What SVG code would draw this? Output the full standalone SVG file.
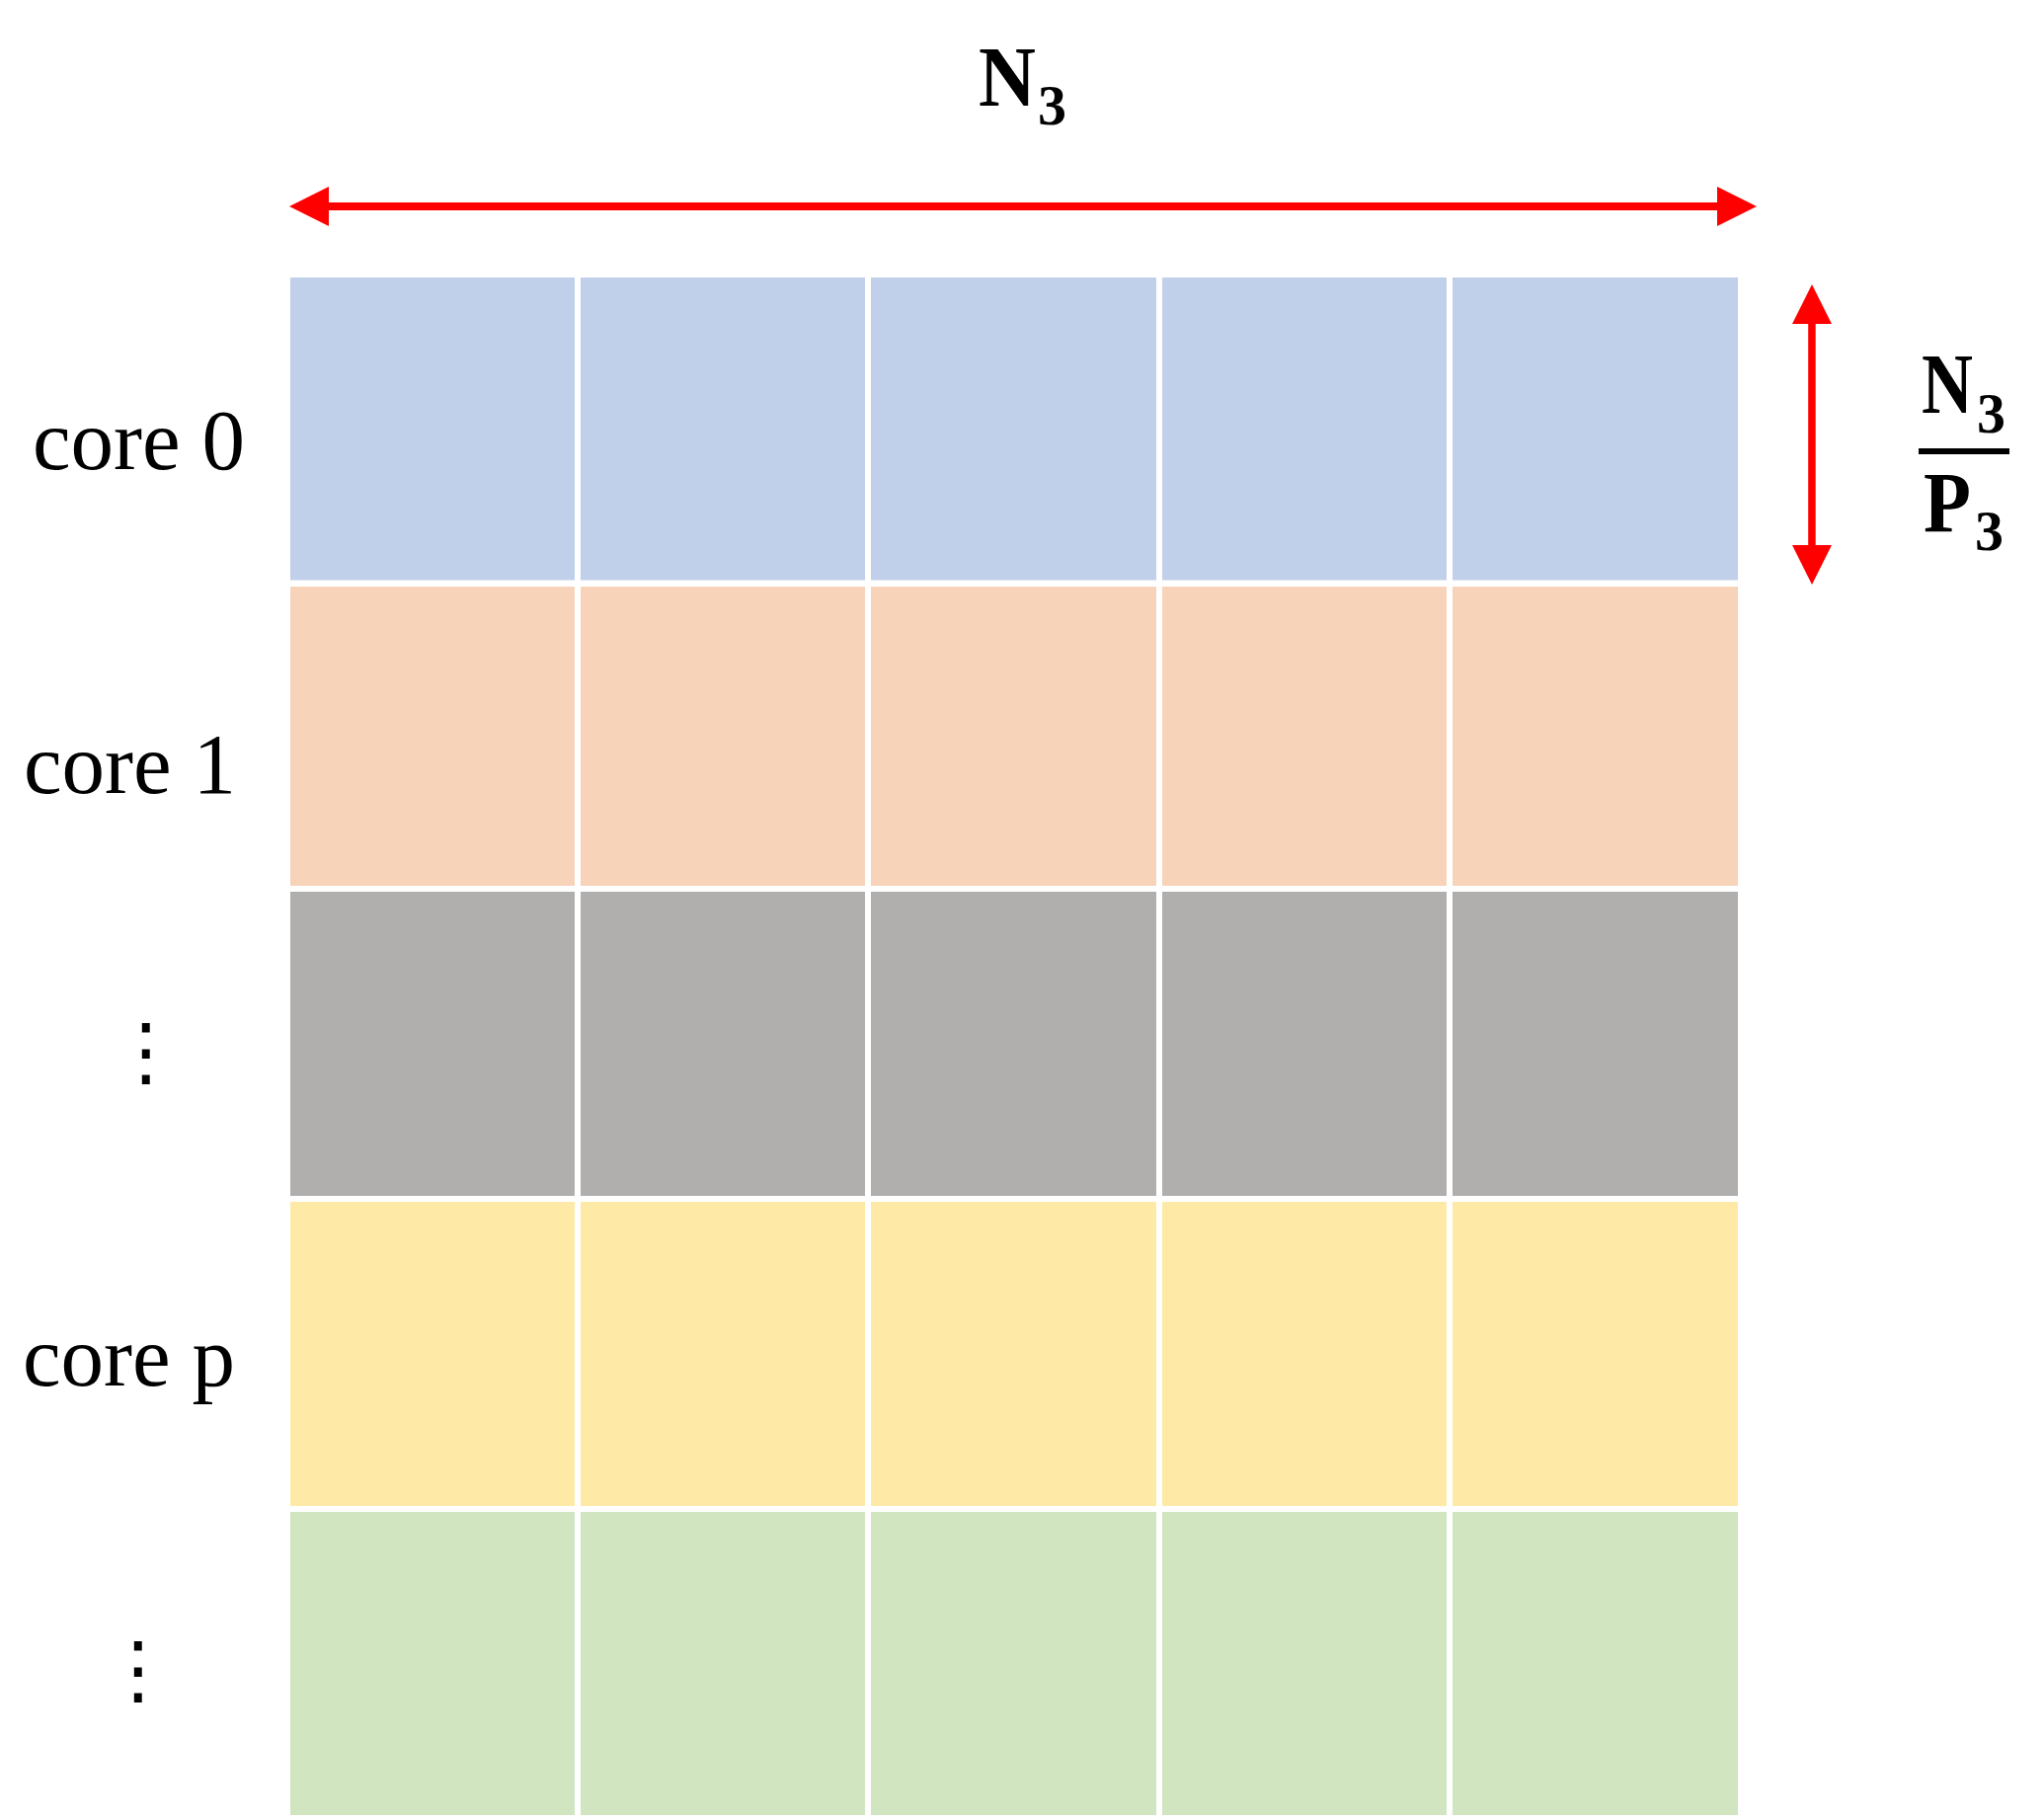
<svg xmlns="http://www.w3.org/2000/svg" width="2070" height="1843" viewBox="0 0 2070 1843">
<style>
.lbl{font-family:"Liberation Serif","Times New Roman",serif;font-size:87px;fill:#000}
.math{font-family:"Liberation Serif","Times New Roman",serif;font-weight:bold;fill:#000;font-size:86px}
.sub{font-size:58px}
.dots{font-family:"DejaVu Serif","DejaVu Sans",serif;font-size:77px;fill:#000}
.b{fill:#C0D0EB}.o{fill:#F7D3BA}.g{fill:#B0AFAD}.y{fill:#FEE9A7}.gr{fill:#D0E5C0}
.arr{fill:#FF0000}
</style>
<rect width="2070" height="1843" fill="#fff"/>
<g id="row-core0">
<rect class="b" x="294" y="281" width="288" height="306.5"/>
<rect class="b" x="588" y="281" width="288" height="306.5"/>
<rect class="b" x="882" y="281" width="289" height="306.5"/>
<rect class="b" x="1177" y="281" width="288" height="306.5"/>
<rect class="b" x="1471" y="281" width="289" height="306.5"/>
</g>
<g id="row-core1">
<rect class="o" x="294" y="594" width="288" height="303"/>
<rect class="o" x="588" y="594" width="288" height="303"/>
<rect class="o" x="882" y="594" width="289" height="303"/>
<rect class="o" x="1177" y="594" width="288" height="303"/>
<rect class="o" x="1471" y="594" width="289" height="303"/>
</g>
<g id="row-gray">
<rect class="g" x="294" y="903" width="288" height="308"/>
<rect class="g" x="588" y="903" width="288" height="308"/>
<rect class="g" x="882" y="903" width="289" height="308"/>
<rect class="g" x="1177" y="903" width="288" height="308"/>
<rect class="g" x="1471" y="903" width="289" height="308"/>
</g>
<g id="row-corep">
<rect class="y" x="294" y="1217" width="288" height="308"/>
<rect class="y" x="588" y="1217" width="288" height="308"/>
<rect class="y" x="882" y="1217" width="289" height="308"/>
<rect class="y" x="1177" y="1217" width="288" height="308"/>
<rect class="y" x="1471" y="1217" width="289" height="308"/>
</g>
<g id="row-green">
<rect class="gr" x="294" y="1531" width="288" height="307"/>
<rect class="gr" x="588" y="1531" width="288" height="307"/>
<rect class="gr" x="882" y="1531" width="289" height="307"/>
<rect class="gr" x="1177" y="1531" width="288" height="307"/>
<rect class="gr" x="1471" y="1531" width="289" height="307"/>
</g>
<g id="labels">
<text class="lbl" x="33" y="475">core 0</text>
<text class="lbl" x="24" y="802.7">core 1</text>
<text class="dots" x="148" y="1090.5" text-anchor="middle">⋮</text>
<text class="lbl" x="23" y="1402.7">core p</text>
<text class="dots" x="140" y="1716.5" text-anchor="middle">⋮</text>
</g>
<g id="connectors">
<rect class="arr" x="332" y="205" width="1408" height="8"/>
<polygon class="arr" points="293,209 333,189 333,229"/>
<polygon class="arr" points="1779,209 1739,189 1739,229"/>
<rect class="arr" x="1831.2" y="327" width="7.5" height="226"/>
<polygon class="arr" points="1835,288 1815,328 1855,328"/>
<polygon class="arr" points="1835,592 1815,552 1855,552"/>
</g>
<g id="label-N3-top">
<text class="math"><tspan x="991" y="106.7" textLength="58" lengthAdjust="spacingAndGlyphs">N</tspan><tspan class="sub" x="1051" y="126">3</tspan></text>
</g>
<g id="label-fraction">
<text class="math"><tspan x="1946" y="418" textLength="52" lengthAdjust="spacingAndGlyphs">N</tspan><tspan class="sub" x="2002" y="438">3</tspan></text>
<rect x="1943" y="454" width="92" height="6" fill="#000"/>
<text class="math"><tspan x="1948" y="537.7" textLength="48" lengthAdjust="spacingAndGlyphs">P</tspan><tspan class="sub" x="2000" y="557">3</tspan></text>
</g>
</svg>
